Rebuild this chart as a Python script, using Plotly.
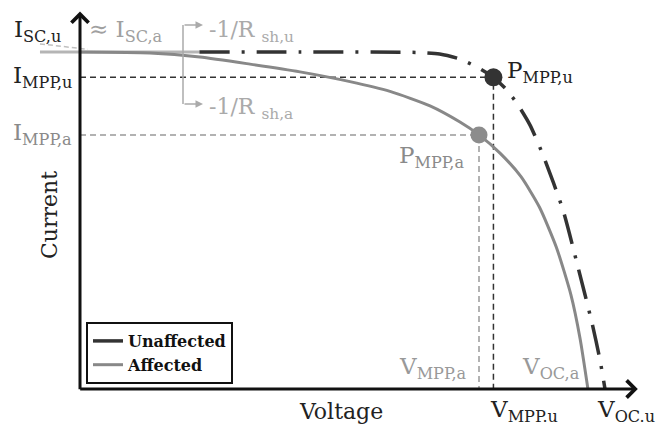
import plotly.graph_objects as go

# ---- data (voltage in V, current in A) ----
v_unaffected = [9.1, 16.8, 25.9, 27.4, 28.95, 30.25, 31.5, 32.53, 33.37, 34.29, 35.28, 36.8, 37.94, 39.01, 39.62, 40.0]
i_unaffected = [10.0, 10.0, 9.985, 9.94, 9.79, 9.55, 9.25, 8.87, 8.43, 7.83, 6.94, 5.31, 3.62, 1.96, 0.86, 0.0]

v_affected = [0.0, 5.33, 9.14, 12.95, 16.76, 20.57, 23.62, 26.67, 28.95, 30.4, 32.0, 33.6, 35.0, 36.3, 37.4, 38.1, 38.7]
i_affected = [10.0, 9.97, 9.85, 9.64, 9.41, 9.12, 8.83, 8.40, 7.92, 7.54, 7.0, 6.3, 5.4, 4.2, 2.8, 1.5, 0.0]

mpp_u = (31.5, 9.25)
mpp_a = (30.4, 7.54)

tan_u_v = [-3.05, 9.1]
tan_u_i = [10.0, 10.0]
tan_a_v = [-3.05, 0.6]
tan_a_i = [10.24, 10.08]

series_names = ["Unaffected", "Affected"]

# ---- layout constants ----
W, H = 656, 426
XR = [-6.095, 43.886]
YR = [-1.098, 11.543]
FONT = "DejaVu Serif"
BLACK = "#222222"
GREY = "#8a8a8a"
LGREY = "#aaaaaa"

fig = go.Figure()

# tangent lines (-1/Rsh)
fig.add_trace(go.Scatter(x=tan_u_v, y=tan_u_i, mode="lines",
                         line=dict(color="#b5b5b5", width=3), showlegend=False, hoverinfo="skip"))
fig.add_trace(go.Scatter(x=tan_a_v, y=tan_a_i, mode="lines",
                         line=dict(color="#c0c0c0", width=1.5, dash="5px,3px"), showlegend=False, hoverinfo="skip"))

# MPP guide lines
fig.add_trace(go.Scatter(x=[0, mpp_u[0], mpp_u[0]], y=[mpp_u[1], mpp_u[1], 0], mode="lines",
                         line=dict(color="#333333", width=1.5, dash="6px,4px"), showlegend=False, hoverinfo="skip"))
fig.add_trace(go.Scatter(x=[0, mpp_a[0], mpp_a[0]], y=[mpp_a[1], mpp_a[1], 0], mode="lines",
                         line=dict(color="#999999", width=1.5, dash="6px,4px"), showlegend=False, hoverinfo="skip"))

# curves
fig.add_trace(go.Scatter(x=v_unaffected, y=i_unaffected, mode="lines", name=series_names[0],
                         line=dict(color="#333333", width=3.5, dash="30px,12px,3px,12px", shape="spline", smoothing=0.6)))
fig.add_trace(go.Scatter(x=v_affected, y=i_affected, mode="lines", name=series_names[1],
                         line=dict(color="#888888", width=3, shape="spline", smoothing=0.6)))

# MPP markers
fig.add_trace(go.Scatter(x=[mpp_u[0]], y=[mpp_u[1]], mode="markers",
                         marker=dict(size=18, color="#333333"), showlegend=False, hoverinfo="skip"))
fig.add_trace(go.Scatter(x=[mpp_a[0]], y=[mpp_a[1]], mode="markers",
                         marker=dict(size=17, color="#8c8c8c"), showlegend=False, hoverinfo="skip"))


def px(xp):
    return xp / W


def py(yp):
    return 1 - yp / H


ann = []


def label(text, xp, yp, color=BLACK, size=23, xanchor="left", textangle=0):
    ann.append(dict(text=text, x=px(xp), y=py(yp), xref="paper", yref="paper",
                    xanchor=xanchor, yanchor="middle", showarrow=False, textangle=textangle,
                    font=dict(family=FONT, size=size, color=color)))


label("I<sub>SC,u</sub>", 12, 31)
label("≈ I<sub>SC,a</sub>", 87, 31, color="#a0a0a0")
label("-1/R <sub>sh,u</sub>", 207, 31, color=LGREY, size=22)
label("-1/R <sub>sh,a</sub>", 207, 108, color=LGREY, size=22)
label("I<sub>MPP,u</sub>", 11, 77)
label("I<sub>MPP,a</sub>", 11, 134, color=GREY)
label("P<sub>MPP,u</sub>", 505, 72)
label("P<sub>MPP,a</sub>", 397, 157, color=GREY)
label("V<sub>MPP,a</sub>", 397, 368, color="#999999")
label("V<sub>OC,a</sub>", 520, 368, color="#999999")
label("V<sub>MPP.u</sub>", 488, 411)
label("V<sub>OC.u</sub>", 595, 411)
label("Current", 50, 215, size=22, xanchor="center", textangle=-90)
label("Voltage", 341, 411, size=22, xanchor="center")

# axes arrows
ann.append(dict(x=0, y=11.2, ax=0, ay=-0.05, xref="x", yref="y", axref="x", ayref="y",
                showarrow=True, arrowhead=4, arrowsize=1.1, arrowwidth=3, arrowcolor="#111111", text=""))
ann.append(dict(x=42.5, y=0, ax=-0.1, ay=0, xref="x", yref="y", axref="x", ayref="y",
                showarrow=True, arrowhead=4, arrowsize=1.1, arrowwidth=3, arrowcolor="#111111", text=""))

# -1/Rsh bracket arrows
for yp in (25, 104):
    ann.append(dict(x=px(203), y=py(yp), ax=-20, ay=0, xref="paper", yref="paper",
                    axref="pixel", ayref="pixel", showarrow=True, arrowhead=2, arrowsize=1,
                    arrowwidth=1.5, arrowcolor=LGREY, text=""))

shapes = [dict(type="line", xref="paper", yref="paper", x0=px(183), x1=px(183), y0=py(25), y1=py(104),
               line=dict(color=LGREY, width=1.5))]

fig.update_layout(
    width=W, height=H, autosize=False,
    margin=dict(l=0, r=0, t=0, b=0, pad=0),
    paper_bgcolor="white", plot_bgcolor="white",
    xaxis=dict(range=XR, visible=False, showgrid=False, zeroline=False, fixedrange=True),
    yaxis=dict(range=YR, visible=False, showgrid=False, zeroline=False, fixedrange=True),
    annotations=ann, shapes=shapes,
    showlegend=True,
    legend=dict(x=px(86), y=py(322), xanchor="left", yanchor="top",
                bgcolor="white", bordercolor="#111111", borderwidth=2,
                font=dict(family=FONT, size=16, color="#111111", weight="bold"),
                itemwidth=30, tracegroupgap=0),
)

fig.write_html("out.html", config={"displayModeBar": False},
               post_script="document.body.style.margin='0px';document.body.style.overflow='hidden';")
